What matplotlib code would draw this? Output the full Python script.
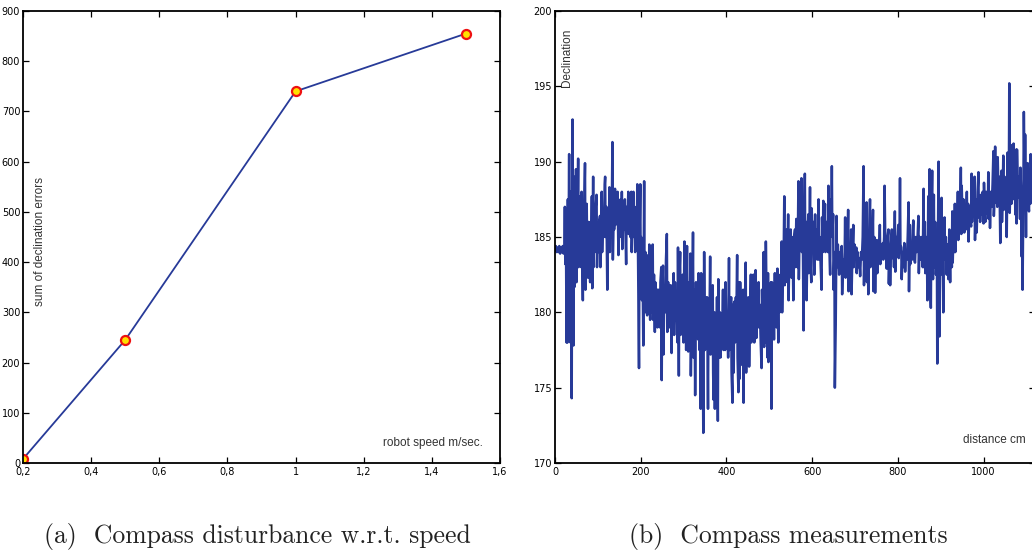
import matplotlib
matplotlib.use("Agg")
import matplotlib.pyplot as plt

# (a) compass disturbance vs robot speed
speed = [0.2, 0.5, 1.0, 1.5]
error_sum = [8, 245, 740, 855]
speed_ticks = [0.2, 0.4, 0.6, 0.8, 1.0, 1.2, 1.4, 1.6]
speed_labels = ["0,2", "0,4", "0,6", "0,8", "1", "1,2", "1,4", "1,6"]
error_ticks = [0, 100, 200, 300, 400, 500, 600, 700, 800, 900]

# (b) compass declination along the path
distance = [
    0, 2, 4, 6, 8, 10, 12, 14, 16, 18, 20, 22,
    23, 24, 25, 26, 27, 28, 29, 30, 31, 33, 34, 35, 36, 37, 38, 39, 40, 41, 42, 43,
    44, 45, 46, 47, 48, 49, 50, 51, 52, 54, 55, 56, 57, 58, 59, 60, 61, 62, 63, 65,
    66, 67, 68, 70, 71, 72, 73, 74, 75, 77, 78, 79, 80, 82, 83, 84, 86, 87, 88, 89,
    90, 91, 93, 95, 97, 98, 100, 101, 103, 105, 106, 108, 109, 110, 112, 114, 116, 117, 118, 120,
    122, 123, 125, 127, 128, 130, 132, 134, 135, 137, 138, 140, 141, 143, 145, 146, 148, 150, 151, 153,
    155, 156, 157, 159, 161, 163, 166, 167, 169, 171, 172, 174, 176, 178, 179, 181, 183, 184, 186, 187,
    189, 191, 192, 194, 196, 197, 199, 200, 201, 203, 204, 206, 207, 208, 209, 211, 212, 214, 215, 217,
    218, 220, 222, 223, 225, 226, 228, 229, 231, 233, 234, 236, 238, 239, 241, 243, 245, 246, 248, 249,
    250, 252, 253, 255, 257, 259, 261, 262, 264, 265, 267, 268, 270, 272, 273, 275, 277, 278, 280, 282,
    284, 286, 287, 289, 290, 292, 293, 295, 296, 298, 300, 302, 303, 305, 306, 308, 309, 311, 313, 314,
    316, 317, 319, 320, 322, 323, 325, 326, 327, 329, 330, 332, 334, 335, 337, 338, 340, 341, 343, 344,
    346, 347, 348, 350, 351, 353, 354, 355, 357, 358, 360, 362, 363, 365, 366, 368, 369, 370, 372, 373,
    375, 377, 378, 380, 381, 383, 385, 386, 388, 390, 392, 393, 395, 397, 398, 400, 402, 404, 406, 407,
    409, 411, 412, 414, 415, 417, 418, 420, 422, 423, 425, 426, 428, 429, 431, 432, 434, 436, 437, 439,
    440, 441, 443, 445, 446, 448, 450, 451, 453, 455, 457, 458, 460, 462, 463, 465, 466, 468, 470, 471,
    473, 475, 476, 478, 480, 482, 483, 485, 487, 488, 490, 491, 492, 494, 496, 497, 498, 500, 502, 504,
    505, 506, 508, 509, 511, 513, 514, 516, 517, 519, 521, 522, 524, 526, 527, 529, 530, 532, 533, 535,
    536, 538, 539, 541, 542, 544, 545, 547, 548, 550, 552, 553, 555, 556, 558, 560, 561, 563, 564, 566,
    568, 569, 571, 572, 573, 575, 576, 578, 580, 581, 583, 584, 586, 587, 589, 591, 592, 594, 595, 596,
    598, 599, 601, 603, 605, 607, 608, 610, 612, 614, 615, 616, 618, 620, 622, 623, 625, 626, 628, 630,
    631, 633, 635, 637, 638, 640, 642, 643, 645, 646, 647, 649, 650, 652, 653, 655, 657, 658, 660, 661,
    663, 665, 667, 669, 670, 672, 674, 676, 677, 678, 680, 682, 684, 685, 687, 689, 691, 692, 694, 696,
    697, 699, 701, 703, 704, 706, 708, 710, 712, 714, 716, 718, 720, 721, 723, 725, 727, 728, 730, 731,
    733, 735, 736, 738, 740, 742, 743, 745, 747, 749, 751, 752, 754, 756, 758, 759, 761, 763, 765, 766,
    768, 769, 771, 773, 774, 776, 778, 779, 781, 782, 784, 786, 787, 789, 791, 793, 794, 796, 798, 801,
    802, 804, 805, 806, 808, 809, 811, 813, 815, 817, 819, 821, 823, 825, 826, 828, 829, 831, 833, 835,
    836, 838, 840, 842, 844, 846, 848, 849, 851, 852, 854, 856, 858, 860, 861, 863, 864, 866, 868, 869,
    871, 872, 874, 875, 877, 878, 880, 881, 882, 884, 885, 887, 889, 891, 892, 893, 895, 896, 897, 899,
    900, 902, 903, 904, 906, 907, 909, 910, 912, 914, 916, 918, 920, 921, 922, 924, 926, 927, 928, 930,
    932, 933, 934, 936, 938, 940, 941, 943, 945, 947, 948, 949, 951, 953, 955, 957, 959, 961, 962, 964,
    965, 967, 969, 971, 972, 973, 975, 977, 979, 980, 982, 984, 986, 988, 989, 991, 992, 994, 996, 998,
    1000, 1001, 1003, 1004, 1006, 1008, 1010, 1011, 1012, 1014, 1015, 1017, 1019, 1021, 1023, 1024, 1026, 1027, 1028, 1030,
    1032, 1033, 1035, 1037, 1039, 1040, 1042, 1043, 1045, 1046, 1047, 1049, 1051, 1053, 1054, 1056, 1057, 1059, 1060, 1061,
    1063, 1065, 1066, 1068, 1070, 1071, 1073, 1074, 1076, 1077, 1078, 1080, 1081, 1083, 1085, 1086, 1088, 1089, 1090, 1091,
    1093, 1094, 1096, 1097, 1099, 1100, 1102, 1103, 1105, 1106, 1107, 1109, 1110, 1112, 1114,
]
declination = [
    184.2, 184.4, 184.0, 184.3, 184.0, 184.4, 183.9, 184.3, 184.0, 184.4, 183.9, 184.3,
    187.0, 183.2, 186.8, 183.0, 178.0, 186.5, 178.0, 187.5, 181.0, 190.5, 181.5, 188.0, 178.0, 186.0, 182.0, 174.3, 188.0, 192.8, 183.5, 177.8,
    186.0, 189.0, 181.7, 187.5, 184.0, 189.5, 182.0, 186.5, 184.0, 190.2, 183.0, 187.0, 183.8, 187.7, 184.0, 186.0, 183.0, 188.0, 184.5, 180.8,
    185.0, 183.5, 186.5, 189.9, 181.5, 185.5, 183.0, 187.2, 184.0, 182.3, 186.0, 183.5, 185.5, 182.0, 186.0, 183.0, 187.7, 181.6, 185.0, 189.0,
    183.0, 186.0, 184.0, 187.0, 187.8, 183.0, 185.5, 184.0, 186.0, 186.4, 183.0, 185.0, 188.0, 184.0, 186.5, 185.0, 188.5, 189.0, 185.0, 187.0,
    181.5, 185.5, 184.0, 188.3, 184.0, 186.0, 185.0, 191.3, 183.5, 186.5, 185.5, 188.2, 185.8, 187.0, 186.0, 188.0, 183.8, 186.0, 185.0, 187.5,
    185.0, 188.0, 184.2, 186.0, 185.5, 187.5, 183.2, 187.0, 185.5, 188.0, 185.2, 187.0, 185.0, 188.0, 184.0, 186.5, 188.0, 185.0, 187.0, 184.0,
    186.0, 185.0, 188.5, 183.0, 176.3, 184.5, 188.5, 182.0, 185.0, 180.8, 184.5, 177.8, 183.0, 188.7, 181.0, 184.0, 180.0, 183.8, 179.8, 182.5,
    180.0, 184.5, 179.5, 182.0, 184.3, 180.0, 184.5, 179.5, 182.5, 178.7, 182.0, 180.0, 181.5, 179.0, 181.5, 180.5, 179.0, 182.0, 183.0, 175.5,
    181.0, 183.1, 177.2, 181.5, 180.0, 183.5, 185.2, 178.7, 182.0, 180.0, 181.5, 179.0, 181.8, 177.3, 181.0, 179.0, 182.6, 178.5, 182.0, 179.5,
    181.0, 178.0, 184.3, 175.8, 182.0, 184.0, 178.5, 181.0, 179.5, 182.5, 178.0, 184.7, 179.0, 182.0, 177.5, 184.4, 180.0, 177.4, 182.0, 179.0,
    183.9, 175.8, 181.0, 178.5, 185.3, 177.0, 181.5, 179.0, 174.5, 182.0, 178.5, 180.5, 178.2, 182.6, 177.5, 181.0, 173.6, 182.6, 178.0, 181.5,
    172.0, 179.0, 184.0, 177.5, 181.0, 178.0, 177.7, 181.0, 173.6, 180.0, 178.0, 183.7, 177.2, 180.5, 178.0, 181.8, 176.0, 174.2, 180.0, 173.6,
    179.0, 178.0, 181.0, 172.8, 182.2, 177.0, 180.0, 177.0, 179.5, 178.0, 181.5, 177.5, 180.5, 177.5, 182.0, 178.5, 180.0, 177.0, 183.6, 177.5,
    180.0, 181.0, 176.0, 174.0, 180.5, 176.0, 180.7, 178.0, 181.0, 179.0, 183.8, 177.0, 174.7, 182.0, 175.6, 182.0, 178.0, 180.0, 176.5, 181.5,
    174.0, 180.0, 178.5, 183.3, 176.0, 180.5, 177.5, 181.0, 176.4, 179.5, 182.5, 178.0, 181.0, 179.0, 182.5, 178.0, 180.5, 182.8, 178.3, 181.0,
    179.5, 182.0, 179.0, 180.5, 178.0, 176.3, 181.5, 179.0, 184.0, 177.7, 182.5, 178.0, 184.7, 180.0, 177.0, 182.6, 176.7, 181.0, 179.0, 182.0,
    173.6, 182.0, 179.5, 181.5, 178.2, 182.6, 180.0, 181.5, 179.0, 182.9, 178.0, 182.0, 180.0, 182.5, 181.0, 184.7, 180.0, 183.5, 182.0, 187.7,
    181.8, 184.0, 182.5, 185.5, 182.0, 186.5, 180.8, 184.0, 183.0, 185.5, 182.3, 185.0, 183.5, 180.8, 185.0, 185.5, 183.0, 186.2, 184.0, 183.0,
    188.7, 182.2, 186.0, 188.5, 185.0, 188.9, 184.0, 186.0, 178.8, 185.0, 189.2, 183.0, 186.0, 180.8, 184.5, 186.5, 182.6, 185.5, 188.3, 183.5,
    182.0, 186.9, 184.0, 186.0, 182.5, 186.5, 184.0, 185.5, 183.5, 185.5, 187.5, 183.5, 185.0, 183.0, 181.5, 186.3, 184.0, 187.4, 184.5, 187.2,
    184.0, 186.0, 185.0, 184.0, 188.4, 184.5, 182.5, 187.5, 185.5, 189.7, 185.0, 186.5, 181.5, 184.0, 175.0, 179.2, 186.4, 183.0, 184.5, 183.9,
    182.5, 184.0, 183.0, 184.4, 181.2, 183.5, 182.5, 184.0, 186.3, 182.3, 184.0, 183.0, 186.8, 181.4, 184.5, 183.0, 185.5, 181.2, 184.0, 185.8,
    183.0, 184.5, 183.5, 184.3, 182.6, 184.0, 183.0, 183.6, 182.4, 184.0, 183.5, 185.0, 189.7, 181.8, 185.5, 183.0, 187.3, 182.0, 184.5, 181.2,
    185.0, 187.5, 183.0, 185.5, 184.0, 186.8, 181.4, 185.0, 181.3, 184.0, 184.8, 182.6, 184.5, 183.5, 185.8, 183.2, 184.5, 183.8, 184.6, 183.5,
    185.0, 188.4, 184.0, 183.5, 182.9, 185.0, 185.5, 181.9, 184.0, 181.8, 184.5, 185.5, 183.6, 185.0, 183.0, 186.7, 182.7, 185.0, 184.0, 185.8,
    183.6, 185.5, 188.9, 184.5, 184.3, 182.2, 184.0, 183.0, 184.6, 182.7, 184.0, 183.5, 185.0, 187.3, 181.4, 185.8, 183.2, 184.5, 183.5, 185.5,
    186.1, 183.6, 183.3, 185.0, 184.0, 185.0, 186.4, 182.6, 185.0, 183.5, 184.5, 185.0, 183.0, 188.2, 183.0, 186.0, 182.6, 185.0, 183.5, 180.8,
    187.7, 183.0, 189.5, 182.5, 180.3, 185.5, 189.4, 183.5, 182.2, 187.8, 183.0, 186.0, 182.5, 185.0, 176.6, 183.0, 190.0, 180.0, 178.4, 186.0,
    182.5, 187.6, 183.0, 185.5, 180.0, 184.0, 186.3, 183.5, 185.0, 182.5, 184.5, 182.2, 185.5, 183.0, 182.0, 184.5, 183.0, 186.7, 183.3, 185.5,
    184.0, 187.2, 184.0, 186.5, 185.0, 188.0, 184.8, 187.0, 186.0, 189.6, 185.2, 188.4, 186.0, 187.5, 185.3, 187.0, 186.0, 188.0, 185.5, 187.2,
    184.7, 187.0, 186.0, 185.7, 189.2, 186.0, 188.0, 186.5, 189.0, 184.8, 187.5, 185.3, 188.0, 189.3, 186.3, 187.5, 186.0, 187.8, 186.5, 188.0,
    185.9, 188.6, 186.5, 186.0, 188.0, 187.0, 186.5, 189.3, 186.2, 187.6, 185.6, 188.0, 187.0, 188.5, 190.7, 186.4, 188.0, 191.0, 187.3, 189.0,
    187.0, 190.3, 187.5, 189.0, 184.6, 188.0, 189.4, 186.0, 188.5, 190.4, 186.8, 189.0, 187.5, 188.0, 185.0, 190.6, 187.0, 188.5, 195.2, 186.6,
    189.0, 187.2, 191.1, 187.5, 191.2, 188.0, 189.5, 186.5, 190.8, 185.9, 190.8, 188.0, 187.6, 189.0, 186.2, 189.6, 187.5, 183.7, 188.0, 181.5,
    188.5, 193.3, 188.0, 191.8, 185.0, 189.0, 188.6, 189.9, 187.0, 186.7, 188.7, 187.2, 190.5, 187.5, 189.0,
]
distance_ticks = [0, 200, 400, 600, 800, 1000, 1200]
declination_ticks = [170, 175, 180, 185, 190, 195, 200]

line_color = "#273a98"
tick_family = ["Liberation Sans Narrow", "DejaVu Sans"]
label_font = dict(family=["Liberation Sans", "DejaVu Sans"], size=8.5, color="#333333")
caption_font = dict(family=["cmr10", "DejaVu Serif"], size=18.5, color="#222222")


def style_axes(ax):
    ax.tick_params(direction="in", length=4, width=0.9, top=True, right=True,
                   pad=2, labelsize=7)
    ax.tick_params(axis="x", pad=3)
    for lab in ax.get_xticklabels() + ax.get_yticklabels():
        lab.set_fontfamily(tick_family)
    for sp in ax.spines.values():
        sp.set_linewidth(1.3)


fig = plt.figure(figsize=(10.32, 5.53), dpi=100)

ax1 = fig.add_axes([23 / 1032, 90 / 553, 477 / 1032, 452 / 553])
ax1.plot(speed, error_sum, color=line_color, lw=1.3, marker="o", ms=6.5,
         mfc="#ffe000", mec="#ee1111", mew=1.6)
ax1.set_xticks(speed_ticks)
ax1.set_xticklabels(speed_labels)
ax1.set_yticks(error_ticks)
ax1.set_xlim(0.2, 1.6)
ax1.set_ylim(0, 900)
style_axes(ax1)
ax1.text(0.036, 0.49, "sum of declination errors", rotation=90, transform=ax1.transAxes,
         ha="center", va="center", **label_font)
ax1.text(0.964, 0.044, "robot speed m/sec.", transform=ax1.transAxes,
         ha="right", va="center", **label_font)

ax2 = fig.add_axes([555 / 1032, 90 / 553, 480 / 1032, 452 / 553])
ax2.plot(distance, declination, color=line_color, lw=1.8)
ax2.set_xticks(distance_ticks)
ax2.set_yticks(declination_ticks)
# the right edge of this panel falls just outside the picture
ax2.set_xlim(0, 1120)
ax2.set_ylim(170, 200)
style_axes(ax2)
ax2.text(0.025, 0.962, "Declination", rotation=90, transform=ax2.transAxes,
         ha="center", va="top", **label_font)
ax2.text(0.981, 0.051, "distance cm", transform=ax2.transAxes,
         ha="right", va="center", **label_font)

fig.text(257 / 1032, 1 - 537 / 553, "(a)  Compass disturbance w.r.t. speed",
         ha="center", va="center", **caption_font)
fig.text(788 / 1032, 1 - 537 / 553, "(b)  Compass measurements",
         ha="center", va="center", **caption_font)

fig.savefig("out.png", dpi=100)
